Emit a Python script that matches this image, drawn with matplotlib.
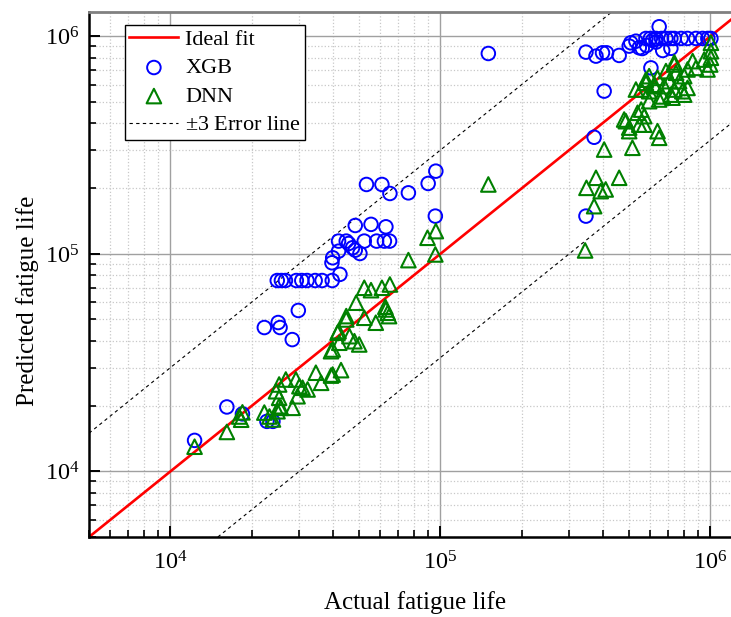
import numpy as np
import matplotlib
matplotlib.use("Agg")
import matplotlib.pyplot as plt

plt.rcParams['font.family'] = ['Liberation Serif', 'DejaVu Serif']
plt.rcParams['mathtext.fontset'] = 'custom'
plt.rcParams['mathtext.rm'] = 'Liberation Serif'

# actual vs predicted fatigue life
xgb_actual = [12300, 16200, 18500, 22800, 24000,
              22300, 25100, 25500, 28300, 29800,
              24900, 25800, 26700, 29300, 30700, 32100, 34400, 36500, 39800,
              42500, 39700, 39950, 42000, 45760, 47340, 48430, 50400,
              42000, 44850, 52300, 58100, 62100, 64900,
              48430, 55400, 62900,
              53300, 60800, 65100, 76200, 90200, 96300, 95900,
              150700,
              346500, 371500, 404700, 603000,
              346500, 377400, 399000, 413000, 460000, 501000, 508000, 530700,
              546000, 560000, 581000, 629700, 667000, 715000, 647000,
              578000, 600000, 612000, 629700, 660000, 685600, 715000, 736000,
              780000, 824000, 885000, 937000, 980000, 1006000]
xgb_pred = [13900, 19800, 18400, 17000, 17000,
            45900, 48400, 45900, 40400, 55000,
            75500, 75500, 75500, 75500, 75500, 75500, 75500, 75500, 75500,
            80600, 91100, 96050, 103000, 111700, 106800, 104100, 100500,
            114600, 114600, 114600, 114600, 114600, 114600,
            135200, 136800, 133300,
            208700, 208700, 189700, 191000, 210900, 240300, 149300,
            835000,
            149300, 344000, 560600, 717000,
            847000, 812000, 841000, 841000, 818000, 903000, 935000, 951000,
            887000, 880000, 909000, 942000, 862000, 882000, 1108000,
            979000, 979000, 960000, 979000, 979000, 979000, 979000, 979000,
            979000, 979000, 979000, 979000, 979000, 979000]

dnn_actual = [12300, 16200, 18000, 18300, 18500,
              22300, 23300, 24000, 24950, 25300, 24640, 25300, 28380, 29600,
              32250, 30080, 26780, 29200, 36200, 25300, 25700, 30900, 34610,
              39390, 42900, 39950,
              41650, 42260, 39390, 46100, 48080, 50100, 48800, 44850, 52300,
              42000, 57700, 62900, 64600, 39950,
              52300, 55400, 60800, 65060, 62600, 63900, 44850,
              76200, 89700, 96300, 95900, 150700,
              344000, 371500, 377400, 348000, 393000, 410000, 460000,
              404700, 515000, 501000, 487000, 538000, 569700, 569700, 546000,
              638000, 647000, 530700, 578000, 622000, 594000, 647000, 725000,
              788000, 480000, 501000, 555000,
              1006000, 1006000, 1006000, 1000000, 977000, 950000, 861000,
              885000, 824000, 801000, 736000, 747000, 685600, 705000, 767000,
              824000, 638000, 622000, 675000, 736000, 594000, 555000, 667000,
              715000, 801000, 578000, 594000, 736000]
dnn_pred = [13000, 15200, 17900, 17300, 18700,
            18660, 17900, 17340, 18920, 19960, 23390, 25120, 19620, 22180,
            23830, 24660, 26480, 26480, 25570, 21820, 19620, 24260, 28450,
            27600, 29240, 27900,
            43450, 39080, 35730, 41890, 39710, 38370, 59700, 50000, 50900,
            44160, 48300, 55600, 51800, 36390,
            69920, 68170, 69920, 72400, 57200, 53670, 51800,
            93700, 118700, 127400, 99500, 208700,
            103800, 165900, 224000, 201400, 194500, 198000, 224000,
            302000, 307700, 367000, 407800, 445700, 430000, 393000, 393000,
            367000, 342000, 570000, 612000, 590900, 504000, 513000, 523000,
            560000, 415000, 381000, 461000,
            935000, 855000, 798000, 743000, 705000, 783000, 770000,
            717000, 705000, 657000, 743000, 681000, 693000, 623000, 623000,
            580000, 645000, 600000, 591000, 570000, 560000, 570000, 530000,
            540000, 540000, 633000, 657000, 760000]

x_lim = (5000, 1.2e6)
y_lim = (5000, 1.3e6)

fig = plt.figure(figsize=(7.31, 6.17), dpi=100)
ax = fig.add_axes([0.1218, 0.1297, 0.879, 0.8514])
ax.set_xscale('log')
ax.set_yscale('log')

ax.grid(True, which='major', color='#a0a0a0', lw=1.0, ls='-')
ax.grid(True, which='minor', color='#c8c8c8', lw=0.9, ls=':')
ax.set_axisbelow(True)

ax.axline((1e4, 1e4), (1e6, 1e6), color='red', lw=1.9, label='Ideal fit', zorder=2)
ax.scatter(xgb_actual, xgb_pred, s=95, marker='o', facecolors='none',
           edgecolors='blue', linewidths=1.4, label='XGB', zorder=3)
ax.scatter(dnn_actual, dnn_pred, s=110, marker='^', facecolors='none',
           edgecolors='green', linewidths=1.5, label='DNN', zorder=4)
ax.axline((1e4, 3e4), (1e6, 3e6), color='black', lw=0.8, ls=(0, (3, 3)),
          label='$\\pm$3 Error line', zorder=2)
ax.axline((1e4, 1e4 / 3), (1e6, 1e6 / 3), color='black', lw=0.8, ls=(0, (3, 3)), zorder=2)

ax.set_xlim(*x_lim)
ax.set_ylim(*y_lim)

ax.set_xlabel('Actual fatigue life', fontsize=18)
ax.set_ylabel('Predicted fatigue life', fontsize=18)
ax.xaxis.set_label_coords(0.507, -0.103)
ax.yaxis.set_label_coords(-0.078, 0.45)
ax.tick_params(which='both', direction='in', top=False, right=False,
               labelsize=17.5)
ax.tick_params(axis='x', which='both', pad=10)
ax.tick_params(axis='y', which='both', pad=7)
ax.tick_params(which='major', length=8, width=1.4)
ax.tick_params(which='minor', length=5, width=1.2)

for s in ('left', 'bottom'):
    ax.spines[s].set_linewidth(1.8)
    ax.spines[s].set_color('black')
ax.spines['top'].set_color('#808080')
ax.spines['top'].set_linewidth(2)

leg = ax.legend(loc='upper left', bbox_to_anchor=(0.056, 0.975), fontsize=16,
                fancybox=False, framealpha=1, edgecolor='black',
                handlelength=2.2, borderpad=0.2, labelspacing=0.36,
                handletextpad=0.3, borderaxespad=0.0)
leg.get_frame().set_linewidth(1.0)

fig.savefig('out.png', dpi=100)
